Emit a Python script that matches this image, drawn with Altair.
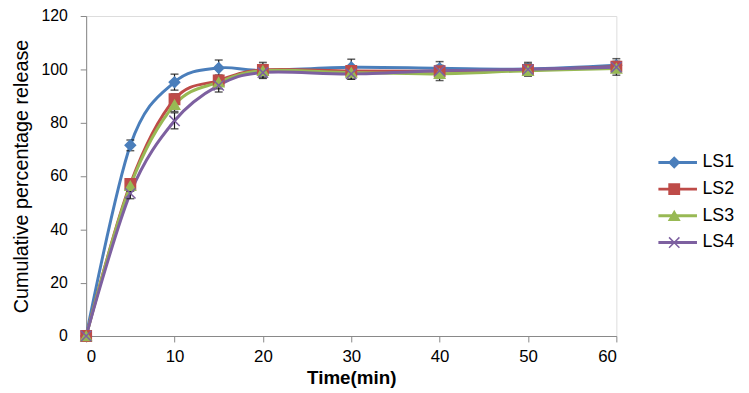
import altair as alt
import pandas as pd

# ---- data ----
times = [0, 5, 10, 15, 20, 30, 40, 50, 60]
series_names = ["LS1", "LS2", "LS3", "LS4"]
ls1 = [0, 71.5, 95.2, 100.5, 99.6, 100.8, 100.4, 100.1, 101.5]
ls2 = [0, 57.0, 88.8, 95.8, 99.8, 99.4, 99.3, 99.8, 101.0]
ls3 = [0, 56.3, 86.7, 95.2, 99.5, 98.8, 98.3, 99.5, 100.3]
ls4 = [0, 53.5, 80.7, 94.0, 98.8, 98.3, 99.5, 100.0, 100.8]
err1 = [0, 2.0, 3.0, 3.0, 3.0, 3.0, 2.5, 2.5, 2.5]
err2 = [0, 1.5, 2.0, 2.0, 2.0, 2.0, 2.0, 2.0, 2.0]
err3 = [0, 2.0, 2.5, 2.5, 2.0, 2.5, 2.5, 2.0, 2.5]
err4 = [0, 2.0, 3.0, 2.5, 2.0, 2.0, 2.0, 2.0, 2.0]
colors = ["#4A7EBB", "#BE4B48", "#98B954", "#7D60A0"]
shapes = ["diamond", "square", "triangle-up", "M-1,-1L1,1M-1,1L1,-1"]

rows = []
for name, vals, errs in zip(series_names, [ls1, ls2, ls3, ls4], [err1, err2, err3, err4]):
    for t, v, e in zip(times, vals, errs):
        rows.append({"series": name, "t": t, "v": v, "lo": v - e, "hi": v + e})
df = pd.DataFrame(rows)

FONT = "Liberation Sans"
color_scale = alt.Scale(domain=series_names, range=colors)
shape_scale = alt.Scale(domain=series_names, range=shapes)

x_enc = alt.X("t:Q", scale=alt.Scale(domain=[0, 60], nice=False),
              axis=alt.Axis(title="Time(min)", values=[0, 10, 20, 30, 40, 50, 60],
                            grid=False, tickSize=6, labelPadding=7, titlePadding=4,
                            titleFontWeight="bold", titleFontSize=19, labelFontSize=17))
y_axis = alt.Axis(title="Cumulative percentage release", values=[0, 20, 40, 60, 80, 100, 120],
                  grid=False, tickSize=6, labelPadding=13, titlePadding=10,
                  titleFontWeight="normal", titleFontSize=20, labelFontSize=16)

base = alt.Chart(df)

lines = base.mark_line(interpolate="cardinal", strokeWidth=3).encode(
    x=x_enc,
    y=alt.Y("v:Q", scale=alt.Scale(domain=[0, 120]), axis=y_axis),
    color=alt.Color("series:N", scale=color_scale,
                    legend=alt.Legend(title=None, orient="none", legendX=577, legendY=139,
                                      symbolType="stroke", symbolSize=1521, symbolStrokeWidth=3,
                                      clipHeight=18, rowPadding=9, labelOffset=4, padding=0,
                                      labelFontSize=18, labelFont=FONT, labelColor="#000")),
    detail="series:N",
)

err_rule = base.mark_rule(color="#1a1a1a", strokeWidth=1.2).encode(
    x="t:Q", y="lo:Q", y2="hi:Q")
err_lo = base.mark_tick(orient="horizontal", size=8, thickness=1.5, color="#1a1a1a").encode(
    x="t:Q", y="lo:Q")
err_hi = base.mark_tick(orient="horizontal", size=8, thickness=1.5, color="#1a1a1a").encode(
    x="t:Q", y="hi:Q")

pt_legend = alt.Legend(title=None, orient="none", legendX=585.5, legendY=139,
                       symbolSize=110, symbolStrokeWidth=1.5, clipHeight=18, rowPadding=9,
                       labelOffset=4, padding=0, labelFontSize=18, labelExpr="''")
points = base.mark_point(filled=True, size=110, strokeWidth=1.5, opacity=1).encode(
    x="t:Q", y="v:Q",
    color=alt.Color("series:N", scale=color_scale, legend=pt_legend),
    stroke=alt.Stroke("series:N", scale=color_scale, legend=pt_legend),
    shape=alt.Shape("series:N", scale=shape_scale, legend=pt_legend),
)

chart = alt.layer(lines, err_rule, err_lo, err_hi, points).resolve_legend(
    color="independent", stroke="independent", shape="independent"
).properties(
    width=536, height=323.5,
    autosize=alt.AutoSizeParams(type="none"),
    padding={"left": 79, "top": 6, "right": 126, "bottom": 55},
).configure_view(stroke=None).configure_axis(
    domainColor="#868686", tickColor="#868686", labelColor="#000", titleColor="#000",
    labelFont=FONT, titleFont=FONT,
).configure(background="white")

chart.save("out.html", embed_options={"renderer": "svg", "actions": False})
